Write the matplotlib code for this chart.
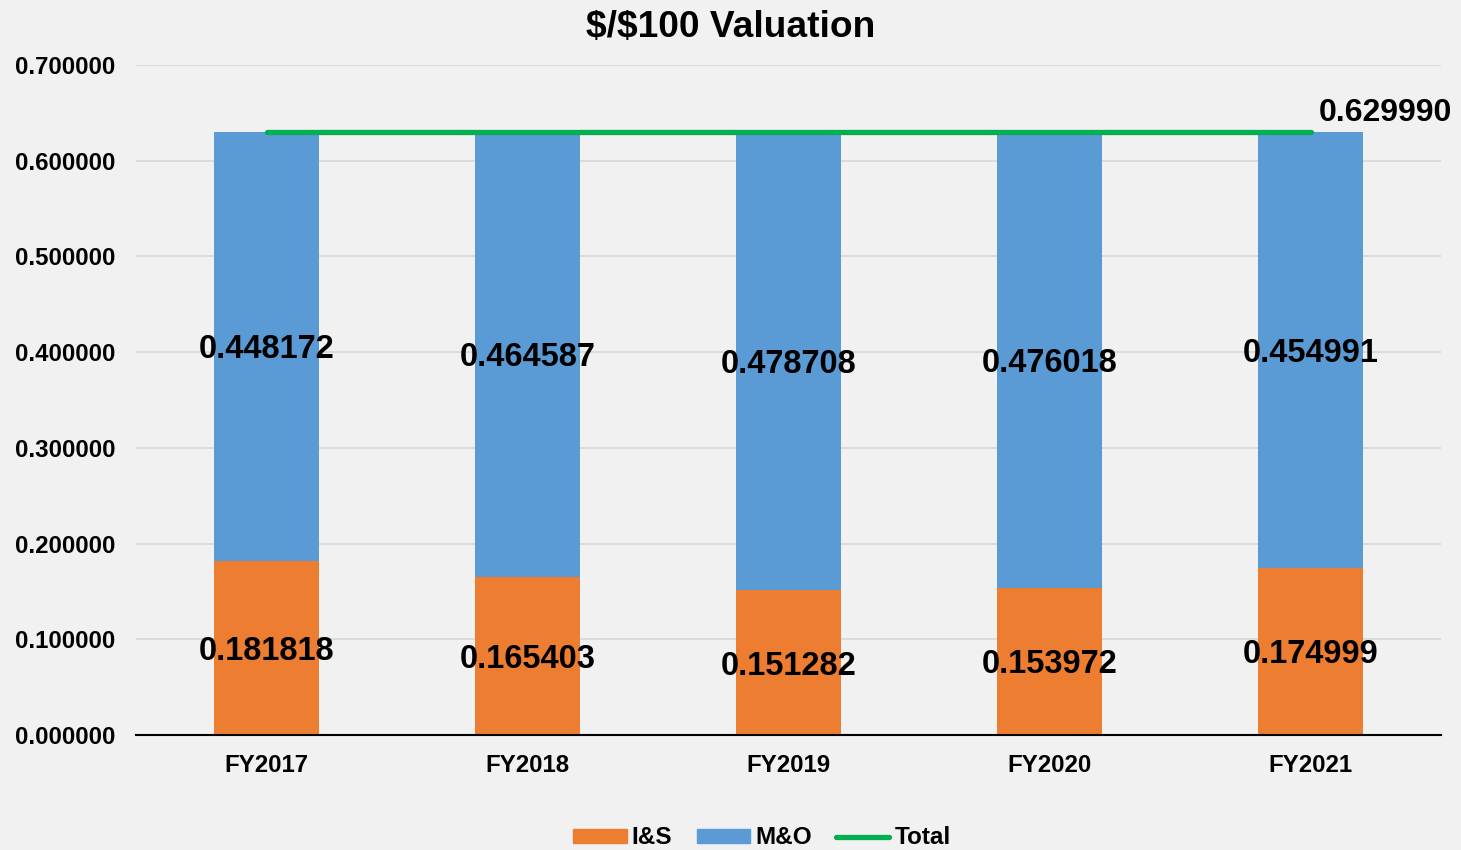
import numpy as np
import matplotlib.pyplot as plt
from matplotlib.patches import Patch
from matplotlib.lines import Line2D

plt.rcParams['font.family'] = ['Liberation Sans', 'DejaVu Sans']
plt.rcParams['font.weight'] = 'bold'

# data
years = ["FY2017", "FY2018", "FY2019", "FY2020", "FY2021"]
i_and_s = [0.181818, 0.165403, 0.151282, 0.153972, 0.174999]
m_and_o = [0.448172, 0.464587, 0.478708, 0.476018, 0.454991]
total = [0.629990, 0.629990, 0.629990, 0.629990, 0.629990]

c_is = "#ED7D31"
c_mo = "#5B9BD5"
c_tot = "#00B050"

fig = plt.figure(figsize=(14.61, 8.5), dpi=100)
fig.patch.set_facecolor("#f1f1f1")
ax = fig.add_axes([136 / 1461, 1 - 735 / 850, (1441 - 136) / 1461, (735 - 65) / 850])
ax.set_facecolor("none")

x = np.arange(len(years))
w = 0.4
ax.bar(x, i_and_s, w, color=c_is, zorder=2)
ax.bar(x, m_and_o, w, bottom=i_and_s, color=c_mo, zorder=2)
ax.plot(x, total, color=c_tot, lw=3.8, solid_capstyle="round", zorder=3)

for xi, a, b in zip(x, i_and_s, m_and_o):
    ax.text(xi, a / 2, f"{a:.6f}", ha="center", va="center_baseline", fontsize=23.5,
            fontweight="bold", zorder=4)
    ax.text(xi, a + b / 2, f"{b:.6f}", ha="center", va="center_baseline", fontsize=23.5,
            fontweight="bold", zorder=4)
ax.annotate(f"{total[-1]:.6f}", (x[-1], total[-1]), xytext=(54, 16.5),
            textcoords="offset points", ha="center", va="center_baseline",
            fontsize=23, fontweight="bold")

ax.set_xlim(-0.5, len(years) - 0.5)
ax.set_ylim(0, 0.7)
ax.set_yticks(np.arange(0, 0.71, 0.1))
ax.set_yticklabels([f"{v:.6f}" for v in np.arange(0, 0.71, 0.1)])
ax.set_xticks(x)
ax.set_xticklabels(years)
ax.tick_params(axis="both", length=0, labelsize=17.3)
ax.tick_params(axis="y", pad=15)
ax.tick_params(axis="x", pad=14)
ax.grid(axis="y", color="#d9d9d9", lw=1.3, zorder=0)
for s in ["left", "right", "top"]:
    ax.spines[s].set_visible(False)
ax.spines["bottom"].set_color("black")
ax.spines["bottom"].set_linewidth(1.5)

fig.text(731 / 1461, 1 - 28 / 850, r"\$/\$100 Valuation", ha="center", va="center",
         fontsize=26.7, fontweight="bold")

handles = [Patch(color=c_is, label="I&S"), Patch(color=c_mo, label="M&O"),
           Line2D([], [], color=c_tot, lw=3.8, solid_capstyle="round", label="Total")]
fig.legend(handles=handles, loc="center", bbox_to_anchor=(762 / 1461, 1 - 838 / 850),
           ncol=3, frameon=False, fontsize=17.5, handlelength=2.2, handleheight=0.55,
           handletextpad=0.2, columnspacing=1.0)

fig.savefig("out.png", dpi=100, facecolor=fig.get_facecolor())
